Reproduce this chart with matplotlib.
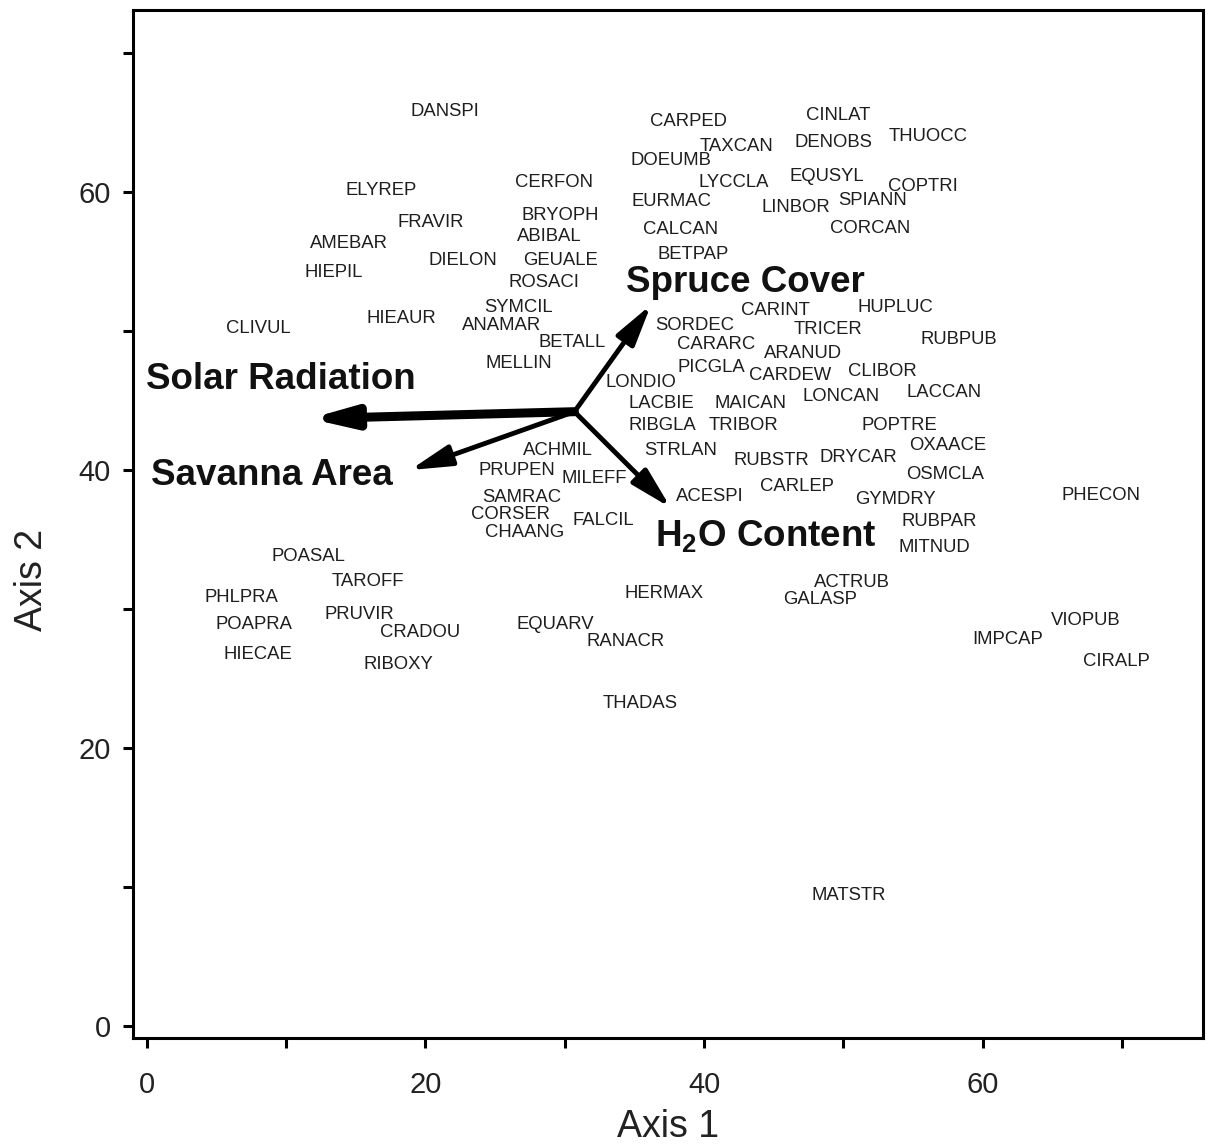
import matplotlib.pyplot as plt

plt.rcParams['font.family'] = ['Liberation Sans', 'DejaVu Sans']
plt.rcParams['mathtext.fontset'] = 'custom'
plt.rcParams['mathtext.rm'] = 'Liberation Sans:bold'

# species scores on the first two ordination axes
species = ['DANSPI', 'CARPED', 'CINLAT', 'THUOCC', 'TAXCAN', 'DENOBS', 'DOEUMB',
           'ELYREP', 'CERFON', 'LYCCLA', 'EQUSYL', 'COPTRI', 'EURMAC', 'LINBOR',
           'SPIANN', 'FRAVIR', 'BRYOPH', 'AMEBAR', 'ABIBAL', 'CALCAN', 'CORCAN',
           'DIELON', 'GEUALE', 'BETPAP', 'HIEPIL', 'ROSACI', 'CARINT', 'HUPLUC',
           'SYMCIL', 'HIEAUR', 'CLIVUL', 'ANAMAR', 'SORDEC', 'TRICER', 'RUBPUB',
           'BETALL', 'CARARC', 'ARANUD', 'MELLIN', 'PICGLA', 'CARDEW', 'CLIBOR',
           'LONDIO', 'LACCAN', 'LONCAN', 'LACBIE', 'MAICAN', 'RIBGLA', 'TRIBOR',
           'POPTRE', 'OXAACE', 'ACHMIL', 'STRLAN', 'RUBSTR', 'DRYCAR', 'PRUPEN',
           'MILEFF', 'OSMCLA', 'CARLEP', 'GYMDRY', 'ACESPI', 'PHECON', 'SAMRAC',
           'CORSER', 'FALCIL', 'RUBPAR', 'CHAANG', 'MITNUD', 'POASAL', 'TAROFF',
           'ACTRUB', 'HERMAX', 'PHLPRA', 'GALASP', 'PRUVIR', 'POAPRA', 'EQUARV',
           'VIOPUB', 'CRADOU', 'RANACR', 'IMPCAP', 'HIECAE', 'RIBOXY', 'CIRALP',
           'THADAS', 'MATSTR']
axis1 = [21.4, 38.9, 49.6, 56.1, 42.3, 49.3, 37.6,
         16.8, 29.2, 42.1, 48.8, 55.7, 37.7, 46.6,
         52.1, 20.4, 29.7, 14.5, 28.9, 38.3, 51.9,
         22.7, 29.7, 39.2, 13.4, 28.5, 45.1, 53.7,
         26.7, 18.3, 8.0, 25.5, 39.3, 48.9, 58.3,
         30.5, 40.9, 47.1, 26.7, 40.5, 46.2, 52.8,
         35.5, 57.2, 49.8, 36.9, 43.3, 37.0, 42.8,
         54.0, 57.5, 29.5, 38.3, 44.8, 51.1, 26.6,
         32.1, 57.3, 46.7, 53.7, 40.4, 68.5, 26.9,
         26.1, 32.8, 56.9, 27.1, 56.5, 11.6, 15.9,
         50.6, 37.1, 6.8, 48.3, 15.3, 7.7, 29.3,
         67.4, 19.6, 34.4, 61.8, 8.0, 18.1, 69.6,
         35.4, 50.4]
axis2 = [65.8, 65.1, 65.5, 64.0, 63.3, 63.6, 62.3,
         60.1, 60.7, 60.7, 61.1, 60.4, 59.3, 58.9,
         59.4, 57.8, 58.3, 56.3, 56.8, 57.3, 57.4,
         55.1, 55.1, 55.5, 54.2, 53.5, 51.5, 51.7,
         51.7, 50.9, 50.2, 50.4, 50.4, 50.1, 49.4,
         49.2, 49.0, 48.4, 47.7, 47.4, 46.8, 47.1,
         46.3, 45.6, 45.3, 44.8, 44.8, 43.2, 43.2,
         43.2, 41.8, 41.4, 41.4, 40.7, 40.9, 40.0,
         39.4, 39.7, 38.8, 37.9, 38.1, 38.2, 38.0,
         36.8, 36.4, 36.3, 35.5, 34.4, 33.8, 32.0,
         31.9, 31.1, 30.8, 30.7, 29.6, 28.9, 28.9,
         29.2, 28.3, 27.7, 27.8, 26.7, 26.0, 26.2,
         23.2, 9.4]

# environmental vectors: common origin, arrow tips, label anchors
origin = (30.7, 44.2)
env_names = ['Solar Radiation', 'Savanna Area', 'Spruce Cover', 'H$_2$O Content']
env_tips = [(11.7, 43.7), (18.9, 40.0), (36.2, 51.9), (37.6, 37.3)]
env_label_pos = [(9.6, 46.5), (9.0, 39.6), (43.0, 53.5), (44.4, 34.5)]
env_widths = [6.5, 3.5, 3.5, 3.5]

fig = plt.figure(figsize=(12.17, 11.47), dpi=100)
ax = fig.add_axes([0.1093, 0.095, 0.8792, 0.8963])

for name, x, y in zip(species, axis1, axis2):
    ax.text(x, y, name, ha='center', va='center', fontsize=13.3, color='#1e1e1e')

for tip, lw in zip(env_tips, env_widths):
    ax.annotate('', xy=tip, xytext=origin,
                arrowprops=dict(arrowstyle='-|>,head_length=1.25,head_width=0.32',
                                lw=lw, color='black', mutation_scale=20,
                                shrinkA=0, shrinkB=0))

for name, (x, y) in zip(env_names, env_label_pos):
    va = 'baseline' if name.startswith('H') else 'center'
    ax.text(x, y, name, ha='center', va=va, fontsize=26.5,
            fontweight='bold', color='#111111')

ax.set_xlim(-0.97, 75.8)
ax.set_ylim(-0.86, 73.1)
ax.set_xticks(range(0, 80, 10))
ax.set_xticklabels(['0', '', '20', '', '40', '', '60', ''])
ax.set_yticks(range(0, 80, 10))
ax.set_yticklabels(['0', '', '20', '', '40', '', '60', ''])

for spine in ax.spines.values():
    spine.set_linewidth(2.2)
ax.tick_params(axis='both', length=7, width=2.2, labelsize=21, labelcolor='#222222')
ax.tick_params(axis='x', pad=17)
ax.tick_params(axis='y', pad=9)

ax.set_xlabel('Axis 1', fontsize=27, color='#222222')
ax.set_ylabel('Axis 2', fontsize=27, color='#222222')
ax.xaxis.set_label_coords(0.5, -0.087)
ax.yaxis.set_label_coords(-0.094, 0.446)
ax.xaxis.label.set_va('center')
ax.yaxis.label.set_va('center')

fig.savefig('out.png', dpi=100)
